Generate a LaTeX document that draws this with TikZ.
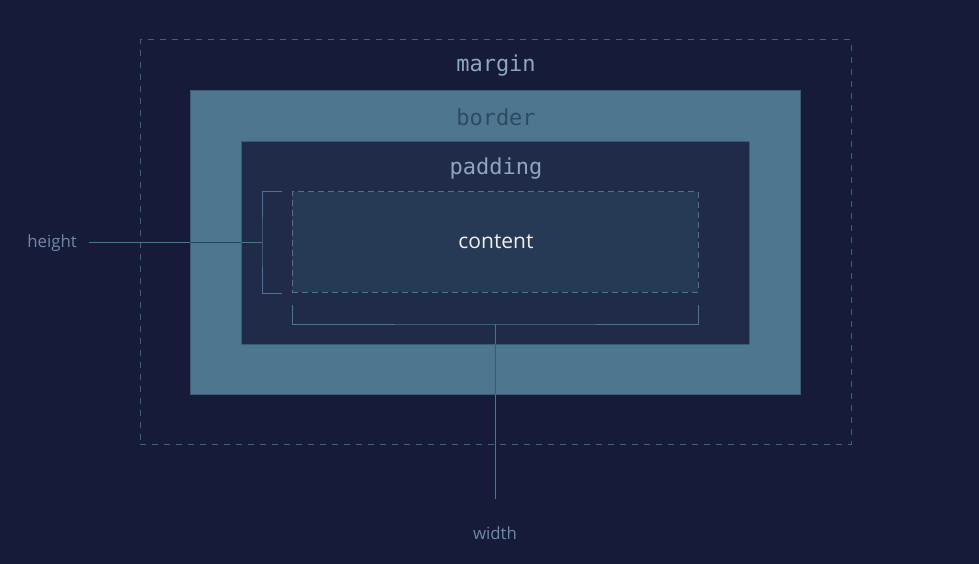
\documentclass[tikz,border=0pt]{standalone}
\usepackage{fontspec}
\setmainfont{Open Sans}
\setmonofont{DejaVu Sans Mono}
\usetikzlibrary{positioning}
\definecolor{bgcol}{HTML}{151B38}
\definecolor{dashcol}{HTML}{3E607B}
\definecolor{bordercol}{HTML}{4E778F}
\definecolor{borderedge}{HTML}{3B5C76}
\definecolor{paddingcol}{HTML}{1F2B48}
\definecolor{contentcol}{HTML}{263A55}
\definecolor{linecol}{HTML}{4A7590}
\definecolor{darkline}{HTML}{2A4660}
\definecolor{monocol}{HTML}{8EA6BE}
\definecolor{bordertext}{HTML}{2D4A63}
\definecolor{dimtext}{HTML}{6E8AA4}
\tikzstyle{area} = [rectangle, inner sep=0pt]
\tikzstyle{boxname} = [font=\ttfamily\fontsize{22}{26}\selectfont, text=monocol]
\tikzstyle{side} = [font=\fontsize{16.8}{20}\selectfont, text=dimtext]
\tikzstyle{conn} = [draw=linecol, line width=1pt]

\begin{document}
\begin{tikzpicture}[x=1pt, y=-1pt]
	\fill [bgcol] (0,0) rectangle (979,564);
	\useasboundingbox (0,0) rectangle (979,564);
	\node [area, draw=dashcol, line width=1pt, dash pattern=on 6pt off 6pt, minimum width=711pt, minimum height=404pt] (margin) at (495.5,242) {};
	\node [area, fill=bordercol, draw=borderedge, line width=0.8pt, minimum width=610pt, minimum height=304pt] (border) at (495,242) {};
	\node [area, fill=paddingcol, draw=borderedge, line width=0.6pt, minimum width=508pt, minimum height=203pt] (padding) at (495,242.5) {};
	\node [area, fill=contentcol, draw=linecol, line width=1pt, dash pattern=on 6pt off 4pt, minimum width=406pt, minimum height=100pt] (content) at (495,242) {};
	
	\node [boxname] (marginname) at (496,66) {margin};
	\node [boxname, text=bordertext] (bordername) at (496,117) {border};
	\node [boxname] (paddingname) at (496,169) {padding};
	\node [font=\fontsize{21}{25}\selectfont, text=white!92!contentcol] (contentname) at (496,242) {content};
	
	\node [side, anchor=east, inner xsep=12pt] (hlabel) at (89,243) {height};
	\node [side] (wlabel) at (495,533) {width};
	
	\coordinate (htop) at (282,192);
	\coordinate (hmid) at (262,242);
	\coordinate (hbot) at (282,293);
	\coordinate (wleft) at (292,305);
	\coordinate (wmid) at (495,324);
	\coordinate (wright) at (698,305);
	
	\path [conn] (htop) -| (hmid) |- (hbot);
	\path [conn] (hlabel.east |- hmid) -- (hmid);
	\path [conn, draw=darkline] (border.west |- hmid) -- (padding.west |- hmid);
	\path [conn] (wleft) |- (wmid) -| (wright);
	\path [conn, shorten >=24pt] (wmid) -- (wlabel);
	\path [conn, draw=darkline!60!linecol] (padding.south -| wmid) -- (border.south -| wmid);
\end{tikzpicture}
\end{document}
